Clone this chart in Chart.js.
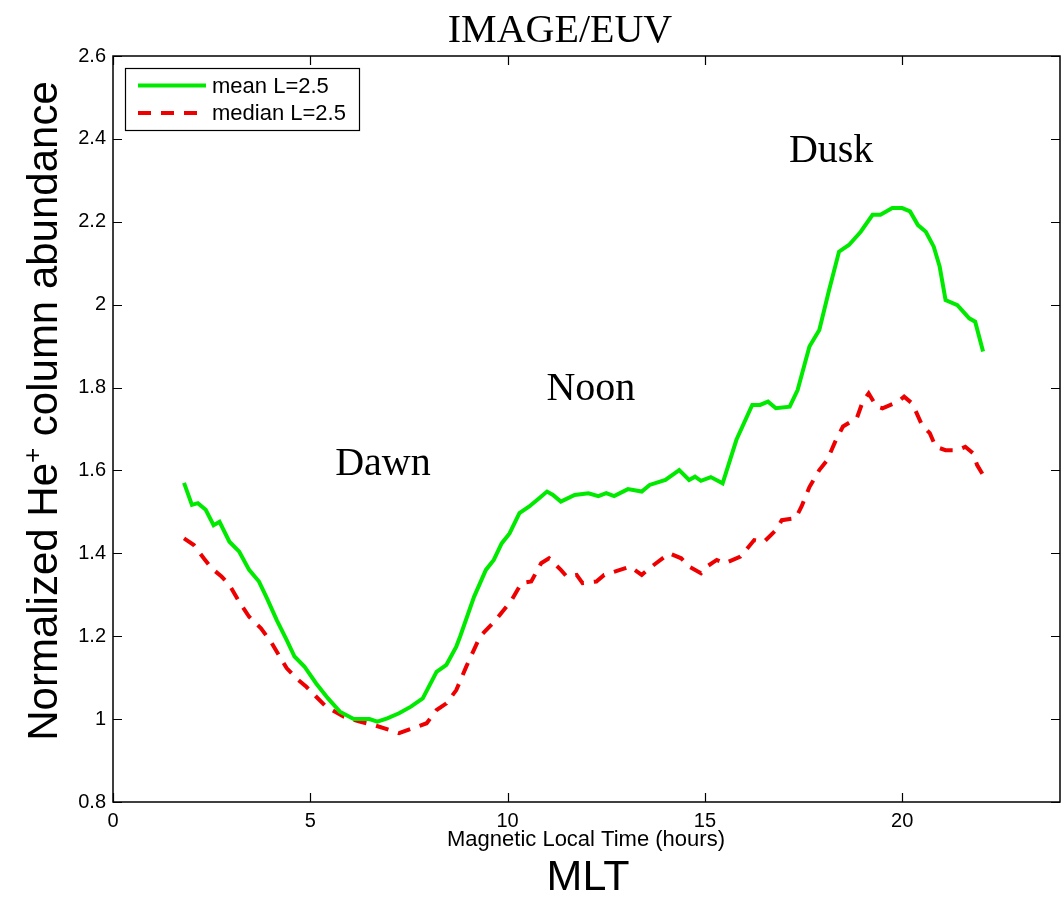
<!DOCTYPE html>
<html>
<head>
<meta charset="utf-8">
<title>IMAGE/EUV He+ column abundance vs MLT</title>
<script src="https://cdn.jsdelivr.net/npm/chart.js@4/dist/chart.umd.min.js"></script>
<style>
  body { margin: 0; background: #fff; }
  #wrap { width: 1062px; height: 912px; position: relative; }
</style>
</head>
<body>
<div id="wrap"><canvas id="mltChart"></canvas></div>
<script>
// mean L=2.5
const mltMean = [1.8, 2.0, 2.15, 2.35, 2.55, 2.7, 2.95, 3.2, 3.45, 3.7, 3.9, 4.15, 4.4, 4.6, 4.85,
    5.15, 5.45, 5.75, 6.1, 6.5, 6.7, 6.95, 7.25, 7.55, 7.85, 8.2, 8.45, 8.7, 8.8, 9.15, 9.45, 9.65,
    9.85, 10.05, 10.3, 10.55, 10.8, 11.0, 11.15, 11.35, 11.7, 12.05, 12.3, 12.5, 12.7, 13.05, 13.4,
    13.6, 14.0, 14.35, 14.6, 14.75, 14.9, 15.15, 15.45, 15.8, 16.2, 16.4, 16.6, 16.8, 17.15, 17.35,
    17.65, 17.9, 18.15, 18.4, 18.65, 18.95, 19.25, 19.45, 19.75, 20.0, 20.2, 20.4, 20.6, 20.8,
    20.95, 21.1, 21.4, 21.7, 21.85, 22.05];
const meanAbund = [1.57, 1.517, 1.521, 1.505, 1.468, 1.476, 1.428, 1.404, 1.36, 1.332, 1.292, 1.239,
    1.191, 1.151, 1.127, 1.086, 1.05, 1.018, 1.0, 1.0, 0.994, 1.002, 1.014, 1.03, 1.05, 1.114, 1.131,
    1.175, 1.2, 1.295, 1.36, 1.384, 1.424, 1.448, 1.497, 1.513, 1.533, 1.549, 1.541, 1.525, 1.541,
    1.545, 1.538, 1.545, 1.538, 1.555, 1.549, 1.565, 1.577, 1.601, 1.577, 1.585, 1.575, 1.584, 1.569,
    1.674, 1.758, 1.758, 1.766, 1.75, 1.754, 1.794, 1.899, 1.939, 2.036, 2.128, 2.144, 2.176, 2.217,
    2.217, 2.233, 2.233, 2.225, 2.192, 2.176, 2.14, 2.092, 2.011, 1.999, 1.967, 1.959, 1.887];

// median L=2.5
const mltMedian = [1.8, 2.05, 2.3, 2.5, 2.75, 2.95, 3.2, 3.45, 3.75, 4.0, 4.2, 4.4, 4.65, 4.9, 5.15,
    5.4, 5.85, 6.25, 6.6, 7.0, 7.25, 7.6, 7.95, 8.2, 8.45, 8.7, 8.95, 9.3, 9.7, 10.1, 10.35, 10.6,
    10.85, 11.05, 11.35, 11.5, 11.75, 11.9, 12.25, 12.45, 12.85, 13.1, 13.4, 13.65, 14.1, 14.4, 14.6,
    14.9, 15.05, 15.3, 15.5, 15.9, 16.25, 16.5, 16.8, 16.95, 17.3, 17.45, 17.65, 17.9, 18.1, 18.3,
    18.5, 18.85, 19.0, 19.15, 19.35, 19.5, 19.9, 20.05, 20.25, 20.35, 20.5, 20.7, 20.85, 21.1, 21.4,
    21.6, 21.8, 21.9, 22.05];
const medianAbund = [1.436, 1.42, 1.388, 1.364, 1.344, 1.324, 1.283, 1.247, 1.219, 1.187, 1.155,
    1.123, 1.098, 1.078, 1.054, 1.03, 1.006, 0.994, 0.986, 0.974, 0.966, 0.978, 0.99, 1.022, 1.038,
    1.07, 1.126, 1.199, 1.239, 1.287, 1.328, 1.332, 1.376, 1.388, 1.36, 1.344, 1.348, 1.328, 1.332,
    1.348, 1.36, 1.368, 1.348, 1.368, 1.4, 1.388, 1.368, 1.352, 1.368, 1.384, 1.376, 1.392, 1.432,
    1.428, 1.456, 1.48, 1.485, 1.513, 1.56, 1.601, 1.625, 1.669, 1.706, 1.726, 1.766, 1.786, 1.754,
    1.75, 1.766, 1.778, 1.762, 1.742, 1.71, 1.69, 1.657, 1.649, 1.649, 1.657, 1.641, 1.613, 1.589];

const xTicks = [0, 5, 10, 15, 20];
const yTicks = [0.8, 1.0, 1.2, 1.4, 1.6, 1.8, 2.0, 2.2, 2.4, 2.6];

// sector names, placed in data coordinates
const sectors = [
    { text: "Dawn", x: 6.84, y: 1.59 },
    { text: "Noon", x: 12.11, y: 1.77 },
    { text: "Dusk", x: 18.2, y: 2.345 }
];

const SANS = '"Liberation Sans", Arial, Helvetica, sans-serif';
const SERIF = '"Liberation Serif", "Times New Roman", serif';

function toPoints(xs, ys) {
    return xs.map((x, i) => ({ x: x, y: ys[i] }));
}

// frame, inward ticks, legend box and all the free text
const decorations = {
    id: "decorations",
    afterDraw(chart) {
        const ctx = chart.ctx;
        const area = chart.chartArea;
        const xs = chart.scales.x;
        const ys = chart.scales.y;
        ctx.save();

        ctx.strokeStyle = "#000";
        ctx.lineWidth = 1.5;
        ctx.strokeRect(area.left, area.top, area.right - area.left, area.bottom - area.top);

        ctx.lineWidth = 1.2;
        ctx.beginPath();
        xTicks.forEach(t => {
            const px = Math.round(xs.getPixelForValue(t)) + 0.5;
            ctx.moveTo(px, area.bottom); ctx.lineTo(px, area.bottom - 9);
            ctx.moveTo(px, area.top); ctx.lineTo(px, area.top + 9);
        });
        yTicks.forEach(t => {
            const py = Math.round(ys.getPixelForValue(t)) + 0.5;
            ctx.moveTo(area.left, py); ctx.lineTo(area.left + 9, py);
            ctx.moveTo(area.right, py); ctx.lineTo(area.right - 9, py);
        });
        ctx.stroke();

        // legend
        const lx = area.left + 12, ly = area.top + 12;
        ctx.fillStyle = "#fff";
        ctx.fillRect(lx, ly, 234, 62);
        ctx.lineWidth = 1.2;
        ctx.strokeRect(lx + 0.5, ly + 0.5, 234, 62);
        chart.data.datasets.forEach((ds, i) => {
            const yy = ly + 17.5 + i * 27.5;
            ctx.strokeStyle = ds.borderColor;
            ctx.lineWidth = ds.borderWidth;
            ctx.setLineDash(ds.borderDash || []);
            ctx.beginPath();
            ctx.moveTo(lx + 13, yy); ctx.lineTo(lx + 81, yy);
            ctx.stroke();
            ctx.setLineDash([]);
            ctx.fillStyle = "#000";
            ctx.font = "22px " + SANS;
            ctx.textAlign = "left";
            ctx.textBaseline = "middle";
            ctx.fillText(ds.label, lx + 87, yy + 1);
        });

        ctx.fillStyle = "#000";
        ctx.textBaseline = "alphabetic";
        ctx.textAlign = "center";

        ctx.font = "40px " + SERIF;
        ctx.fillText("IMAGE/EUV", 560, 42);
        sectors.forEach(s => {
            ctx.fillText(s.text, xs.getPixelForValue(s.x), ys.getPixelForValue(s.y));
        });

        ctx.font = "22px " + SANS;
        ctx.fillText("Magnetic Local Time (hours)", 586, 846);
        ctx.font = "43px " + SANS;
        ctx.fillText("MLT", 588, 890);

        // rotated y title with superscript +
        ctx.translate(57, 411);
        ctx.rotate(-Math.PI / 2);
        ctx.textAlign = "left";
        const big = "42px " + SANS, small = "26px " + SANS;
        const a = "Normalized He", b = "+", c = " column abundance";
        ctx.font = big; const wa = ctx.measureText(a).width, wc = ctx.measureText(c).width;
        ctx.font = small; const wb = ctx.measureText(b).width;
        let x0 = -(wa + wb + wc) / 2;
        ctx.font = big; ctx.fillText(a, x0, 0);
        ctx.font = small; ctx.fillText(b, x0 + wa, -16);
        ctx.font = big; ctx.fillText(c, x0 + wa + wb, 0);

        ctx.restore();
    }
};

new Chart(document.getElementById("mltChart"), {
    type: "line",
    data: {
        datasets: [
            {
                label: "mean L=2.5",
                data: toPoints(mltMean, meanAbund),
                borderColor: "#00ea00",
                borderWidth: 4,
                pointRadius: 0,
                tension: 0
            },
            {
                label: "median L=2.5",
                data: toPoints(mltMedian, medianAbund),
                borderColor: "#ee0000",
                borderWidth: 4,
                borderDash: [13, 10],
                pointRadius: 0,
                tension: 0
            }
        ]
    },
    options: {
        responsive: true,
        maintainAspectRatio: false,
        animation: false,
        devicePixelRatio: 1,
        layout: { padding: { top: 56, right: 2, left: 0, bottom: 0 } },
        plugins: { legend: { display: false }, tooltip: { enabled: false } },
        scales: {
            x: {
                type: "linear",
                min: 0,
                max: 24,
                afterBuildTicks: s => { s.ticks = xTicks.map(v => ({ value: v })); },
                afterFit: s => { s.height = 110; },
                grid: { display: false, drawTicks: false },
                border: { display: false },
                ticks: {
                    padding: 7,
                    color: "#000",
                    font: { family: SANS, size: 20 },
                    maxRotation: 0
                }
            },
            y: {
                min: 0.8,
                max: 2.6,
                afterBuildTicks: s => { s.ticks = yTicks.map(v => ({ value: v })); },
                afterFit: s => { s.width = 113; },
                grid: { display: false, drawTicks: false },
                border: { display: false },
                ticks: {
                    padding: 7,
                    color: "#000",
                    font: { family: SANS, size: 20 },
                    callback: v => String(Number(v.toFixed(1)))
                }
            }
        }
    },
    plugins: [decorations]
});
</script>
</body>
</html>
